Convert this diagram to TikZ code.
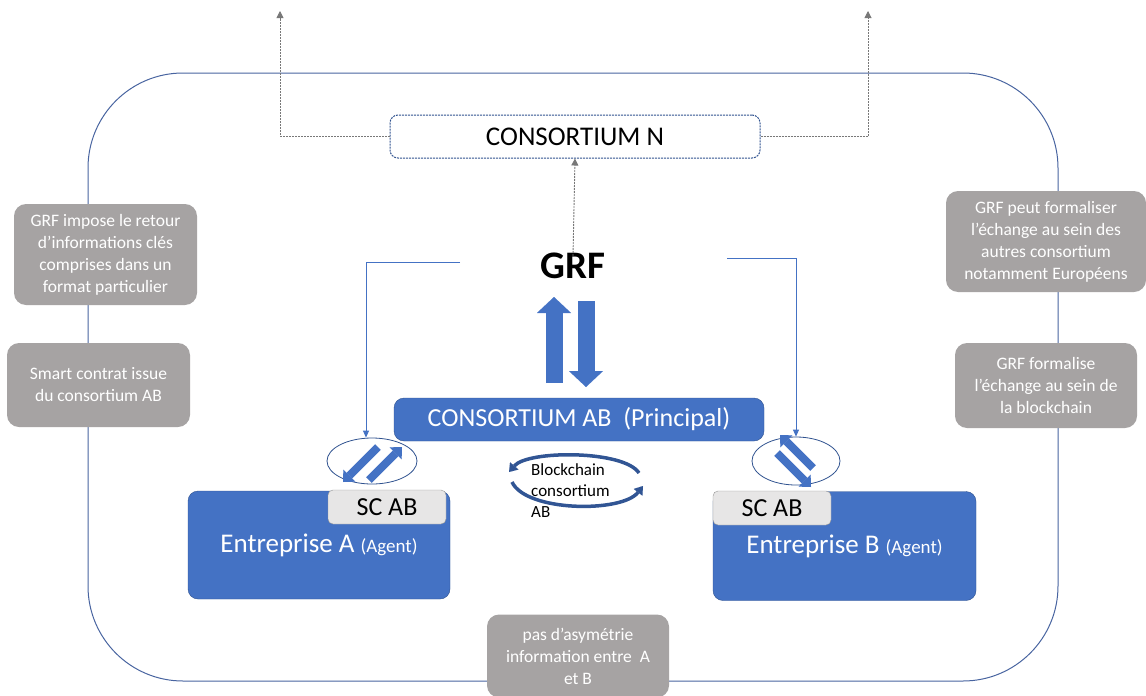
\documentclass[tikz,border=0pt]{standalone}
\usepackage{fontspec}
\setmainfont{Carlito}
\usepackage{tikz}
\usetikzlibrary{arrows.meta,shapes.geometric}

\definecolor{framecol}{RGB}{72,100,160}
\definecolor{agentblue}{RGB}{68,114,196}
\definecolor{agentedge}{RGB}{47,82,143}
\definecolor{notegray}{RGB}{166,163,163}
\definecolor{scgray}{RGB}{231,230,230}
\definecolor{scedge}{RGB}{150,150,150}
\definecolor{dashgray}{RGB}{120,120,120}

\newcommand{\fsz}[2]{\fontsize{#1}{#2}\selectfont}

\begin{document}
\begin{tikzpicture}[x=1pt,y=-1pt,
             note/.style={fill=notegray, rounded corners=12pt, text=white, align=center,
                          font=\fsz{17.5}{22}, inner sep=0pt},
             bluebox/.style={fill=agentblue, draw=agentedge, rounded corners=10pt,
                             text=white, inner sep=0pt},
             scbox/.style={fill=scgray, draw=scedge, rounded corners=5pt, inner sep=0pt,
                           minimum width=118pt, minimum height=34pt, font=\fsz{26}{30}},
             ring/.style={draw=agentedge, line width=0.8pt, ellipse, inner sep=0pt},
             grfline/.style={draw=agentblue, line width=0.8pt, -{Triangle[length=7pt,width=6pt]}},
             dashline/.style={draw=dashgray, line width=0.9pt, dash pattern=on 2pt off 1pt,
                              -{Triangle[length=7pt,width=7pt]}},
             bigarrow/.style={draw=agentblue, line width=17pt,
                              -{Triangle[length=16pt,width=34pt,line width=0.01pt]}},
             smallarrow/.style={draw=agentblue, line width=8pt,
                                -{Triangle[length=9pt,width=17pt,line width=0.01pt]}},
             cycarrow/.style={draw=agentedge!90!agentblue, line width=3.5pt,
                              -{Triangle[length=8pt,width=11pt,line width=0.01pt]}}]
             \useasboundingbox (0,0) rectangle (1146,696);

             \draw[framecol, line width=1pt, rounded corners=95pt] (88,73) rectangle (1058,681);

             \node[note, minimum width=183pt, minimum height=101pt] (noteA) at (105.5,254.5)
                  {GRF impose le retour\\d’informations clés\\comprises dans un\\format particulier};
             \node[note, minimum width=183pt, minimum height=84pt] (noteB) at (98.5,385)
                  {Smart contrat issue\\du consortium AB};
             \node[note, minimum width=200pt, minimum height=101pt] (noteC) at (1046,241.5)
                  {GRF peut formaliser\\l’échange au sein des\\autres consortium\\notamment Européens};
             \node[note, minimum width=182pt, minimum height=85pt] (noteD) at (1046,385.5)
                  {GRF formalise\\l’échange au sein de\\la blockchain};
             \node[note, minimum width=182pt, minimum height=83pt] (noteE) at (578,656)
                  {pas d’asymétrie\\information entre\ \ A\\et B};

             \node[draw=agentedge, line width=1pt, dash pattern=on 2pt off 1pt,
                   rounded corners=8pt, minimum width=370pt, minimum height=43pt, inner sep=0pt,
                   font=\fsz{27}{31}] (consN) at (575,136.5) {CONSORTIUM N};
             \node[font=\fsz{39}{43}\bfseries, inner sep=0pt] (grf) at (573,266) {GRF};
             \node[bluebox, minimum width=370pt, minimum height=43pt,
                   font=\fsz{26}{30}] (consAB) at (579,419.5) {CONSORTIUM AB\ \ (Principal)};

             \node[bluebox, minimum width=262pt, minimum height=108pt] (entA) at (319,545)
                  {\fsz{27}{31}Entreprise A {\fsz{19}{22}(Agent)}};
             \node[scbox] (scA) at (387,507) {SC AB};
             \node[bluebox, minimum width=263pt, minimum height=109pt] (entB) at (844.5,546)
                  {\fsz{27}{31}Entreprise B {\fsz{19}{22}(Agent)}};
             \node[scbox] (scB) at (772,508) {SC AB};

             \node[ring, minimum width=90pt, minimum height=46pt] (ellA) at (372,461) {};
             \node[ring, minimum width=88pt, minimum height=48pt] (ellB) at (796,461) {};

             \node[anchor=north west, align=left, font=\fsz{17}{21}, inner sep=0pt]
                  (blk) at (531,463) {Blockchain\\consortium\\AB};

             \coordinate (topL) at (280,11);
             \coordinate (topR) at (868,11);
             \draw[dashline] (consN.west) -| (topL);
             \draw[dashline] (consN.east) -| (topR);
             \draw[dashline] ([yshift=-3pt]grf.north) -- (consN.south);

             \coordinate (grfA) at (460,262);
             \coordinate (grfB) at (727,258);
             \draw[grfline] (grfA) -| ([xshift=-6pt]ellA.north);
             \draw[grfline] (grfB) -| (ellB.north);

             \coordinate (upS) at (554,383);
             \coordinate (upE) at (554,297);
             \coordinate (dnS) at (586,301);
             \coordinate (dnE) at (586,387);
             \draw[bigarrow] (upS) -- (upE);
             \draw[bigarrow] (dnS) -- (dnE);

             \draw[smallarrow] (378,447) -- (343,482);
             \draw[smallarrow] (369,480) -- (402,447);
             \draw[smallarrow] (813,468) -- (780,435);
             \draw[smallarrow] (777,453) -- (811,487);

             \draw[cycarrow] (639,473) .. controls (624,450) and (528,450) .. (509,472);
             \draw[cycarrow] (512,482) .. controls (526,512) and (622,513) .. (643,486);
\end{tikzpicture}
\end{document}
